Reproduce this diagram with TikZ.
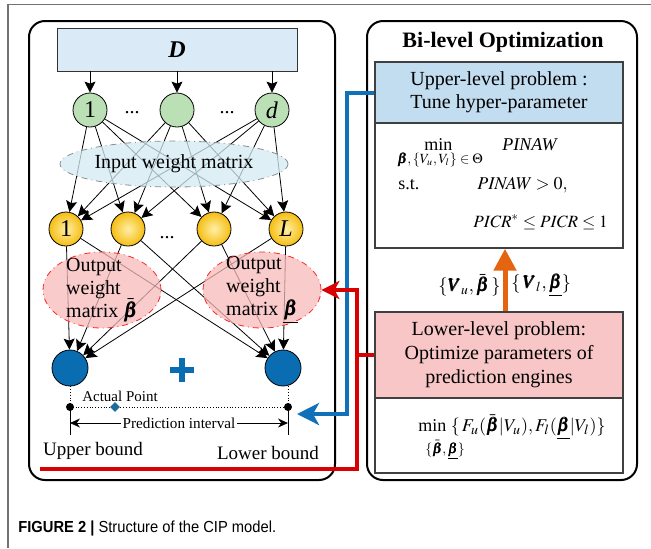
\documentclass[tikz,border=0pt]{standalone}
\usepackage{amsmath}
\usepackage{mathptmx}
\usepackage{bm}
\usepackage{fontspec}
\setmainfont{Liberation Serif}
\newfontfamily\capfont[FakeStretch=0.92]{Liberation Sans}
\usetikzlibrary{arrows.meta, shapes.geometric}

\definecolor{dblue}{HTML}{DAEAF6}
\definecolor{ingreen}{HTML}{BCE0B5}
\definecolor{incyan}{HTML}{D3EAF3}
\definecolor{outpink}{HTML}{F7B9B9}
\definecolor{netblue}{HTML}{0A6DB2}
\definecolor{upblue}{HTML}{C3DDF0}
\definecolor{lowpink}{HTML}{F8C6C6}
\definecolor{linkred}{HTML}{D80000}
\definecolor{linkblue}{HTML}{1171B8}
\definecolor{uporange}{HTML}{E5640F}
\definecolor{hidlight}{HTML}{FFEFA6}
\definecolor{hiddark}{HTML}{F5BD12}
\definecolor{diamteal}{HTML}{1E6B99}

\tikzset{
  neuron/.style = {circle, draw, inner sep=0pt, minimum size=17pt, font=\fontsize{12}{12}\selectfont},
  link/.style = {-{Stealth[length=5.5pt, width=5.5pt, inset=1pt]}, line width=0.4pt},
  wmatrix/.style = {ellipse, dash dot, inner sep=0pt, fill opacity=0.75},
  panelbox/.style = {draw=black!75, line width=0.7pt, minimum width=124pt, inner sep=0pt, align=center},
  bigtext/.style = {font=\fontsize{10}{11.5}\selectfont},
  mathtext/.style = {font=\fontsize{9}{10}\selectfont, anchor=west, inner sep=0pt},
  smalltext/.style = {font=\fontsize{7}{8}\selectfont, anchor=west, inner sep=0pt},
  thickpath/.style = {line width=2pt},
}

\begin{document}
\begin{tikzpicture}[x=0.5pt, y=-0.5pt]
	\useasboundingbox (0,0) rectangle (651,548);
	\draw [black!55, line width=0.6pt] (8,548) -- (8,4.5) -- (651,4.5);
	% the two panels
	\draw [line width=1pt, rounded corners=8pt] (29,21) rectangle (335,480);
	\draw [line width=1pt, rounded corners=8pt] (367,21) rectangle (637,480);

	% network
	\node [draw=black!80, fill=dblue, minimum width=120pt, minimum height=21.5pt, font=\fontsize{12}{12}\selectfont\bfseries\itshape] (D) at (177,49.5) {D};
	\node [neuron, fill=ingreen] (g1) at (90,110) {1};
	\node [neuron, fill=ingreen] (g2) at (177,110) {};
	\node [neuron, fill=ingreen] (g3) at (272,110) {\textit{d}};
	\node [bigtext] (gdots1) at (132,113) {...};
	\node [bigtext] (gdots2) at (227,113) {...};
	\node [neuron, inner color=hidlight, outer color=hiddark] (h1) at (66,229) {1};
	\node [neuron, inner color=hidlight, outer color=hiddark] (h2) at (128,229) {};
	\node [neuron, inner color=hidlight, outer color=hiddark] (h3) at (214,229) {};
	\node [neuron, inner color=hidlight, outer color=hiddark] (h4) at (286,229) {\textit{L}};
	\node [bigtext] (hdots) at (167,238) {...};
	\node [neuron, fill=netblue, minimum size=18pt] (o1) at (70,368) {};
	\node [neuron, fill=netblue, minimum size=18pt] (o2) at (283,368) {};

	\draw [link] (D.south -| g1) -- (g1);
	\draw [link] (D.south -| g2) -- (g2);
	\draw [link] (D.south -| g3) -- (g3);
	\path (g1) edge [link] (h1) edge [link] (h2) edge [link] (h3) edge [link] (h4);
	\path (g2) edge [link] (h1) edge [link] (h2) edge [link] (h3) edge [link] (h4);
	\path (g3) edge [link] (h1) edge [link] (h2) edge [link] (h3) edge [link] (h4);
	\path (h1) edge [link] (o1) edge [link] (o2);
	\path (h2) edge [link] (o1) edge [link] (o2);
	\path (h3) edge [link] (o1) edge [link] (o2);
	\path (h4) edge [link] (o1) edge [link] (o2);

	% weight matrices
	\node [wmatrix, draw=black!45, fill=incyan, minimum width=114pt, minimum height=23pt] (inw) at (174,164) {};
	\node [bigtext] at (inw.center) {Input weight matrix};
	\node [wmatrix, draw=red!85, fill=outpink, minimum width=59pt, minimum height=38pt] (uw) at (102,290) {};
	\node [bigtext, align=left, inner sep=0pt] at (uw.center) {Output\\weight\\matrix $\bar{\bm\beta}$};
	\node [wmatrix, draw=red!85, fill=outpink, minimum width=59pt, minimum height=38pt] (lw) at (262,290) {};
	\node [bigtext, align=left, inner sep=0pt] at (lw.center) {Output\\weight\\matrix $\underline{\bm\beta}$};

	\draw [netblue, line width=3pt] (170,370) -- (194,370);
	\draw [netblue, line width=3pt] (182,358) -- (182,382);

	% prediction interval
	\coordinate (pu) at (70,407);
	\coordinate (pl) at (288,407);
	\coordinate (iu) at (70,423);
	\coordinate (il) at (288,423);
	\coordinate (eu) at (70,435);
	\coordinate (el) at (288,435);
	\draw [densely dotted] (o1) -- (pu);
	\draw [densely dotted] (pl |- o2.south) -- (pl);
	\draw [densely dotted] (pu) -- (pl);
	\draw (pu) -- (eu);
	\draw (pl) -- (el);
	\fill (pu) circle (2pt);
	\fill (pl) circle (2pt);
	\node [diamond, fill=diamteal, inner sep=0pt, minimum size=5pt] (ap) at (115,407) {};
	\node [font=\fontsize{7.5}{8}\selectfont] (aptext) at (120,396) {Actual Point};
	\draw [{Stealth[length=5pt, width=4.5pt]}-{Stealth[length=5pt, width=4.5pt]}] (iu) -- (il) node [midway, fill=white, inner sep=1pt, font=\fontsize{7.6}{8}\selectfont] {Prediction interval};
	\node [font=\fontsize{9.5}{10}\selectfont] (ub) at (93,451) {Upper bound};
	\node [font=\fontsize{9.5}{10}\selectfont] (lb) at (268,453) {Lower bound};

	% bi-level optimization
	\node [font=\fontsize{11}{12}\selectfont\bfseries] (title) at (503,42) {Bi-level Optimization};
	\node [panelbox, fill=upblue, minimum height=30.5pt, bigtext] (upper) at (499,92.5) {Upper-level problem :\\Tune hyper-parameter};
	\node [panelbox, minimum height=62.5pt] (ubody) at (499,185.5) {};
	\node [panelbox, fill=lowpink, minimum height=43pt, font=\fontsize{10}{12}\selectfont] (lower) at (499,355) {Lower-level problem:\\Optimize parameters of\\prediction engines};
	\node [panelbox, minimum height=37.5pt] (lbody) at (499,435.5) {};

	\node [mathtext] (umin) at (424,145) {min};
	\node [mathtext] (uobj) at (502,145) {\textit{PINAW}};
	\node [smalltext] (usub) at (397,160) {$\bm\beta,\{V_u,V_l\}\in\Theta$};
	\node [mathtext] (ust) at (398,185) {s.t.};
	\node [mathtext] (ucon1) at (477,185) {$\mathit{PINAW} > 0,$};
	\node [mathtext, font=\fontsize{8.6}{10}\selectfont] (ucon2) at (473,222) {$\mathit{PICR}^{*} \le \mathit{PICR} \le 1$};
	\node [mathtext] (lmin) at (418,427) {min $\{\,F_u(\bar{\bm\beta}|V_u),F_l(\underline{\bm\beta}|V_l)\}$};
	\node [smalltext] (lsub) at (425,450) {$\{\bar{\bm\beta},\underline{\bm\beta}\}$};

	\node [anchor=west, inner sep=0pt, font=\fontsize{9.2}{10}\selectfont] (vu) at (438,285) {$\{\bm V_u,\bar{\bm\beta}\,\}$};
	\node [anchor=west, inner sep=0pt, font=\fontsize{9.2}{10}\selectfont] (vl) at (511,285) {$\{\,\bm V_l,\underline{\bm\beta}\}$};

	% feedback paths
	\coordinate (bc) at (347,414);
	\coordinate (bt) at (297,414);
	\coordinate (rs) at (40,469);
	\coordinate (rc) at (357,469);
	\coordinate (rt) at (357,290);
	\draw [linkblue, thickpath, -{Stealth[length=11pt, width=11pt, inset=3pt]}] (upper.west) -| (bc) -- (bt);
	\draw [linkred, thickpath, -{Stealth[length=9pt, width=9pt, inset=2.5pt]}] (rs) -- (rc) -- (rt) -- (lw.east);
	\draw [linkred, thickpath] (lower.west) -- (lower.west -| rt);
	\draw [uporange, line width=2.5pt, -{Triangle[length=11pt, width=11pt]}] ([xshift=3pt]lower.north) -- ([xshift=3pt]ubody.south);

	\node [anchor=base west, inner sep=0pt, font=\capfont\fontsize{8}{9}\selectfont] (caption) at (18,532) {\textbf{FIGURE 2 |} Structure of the CIP model.};
\end{tikzpicture}
\end{document}
